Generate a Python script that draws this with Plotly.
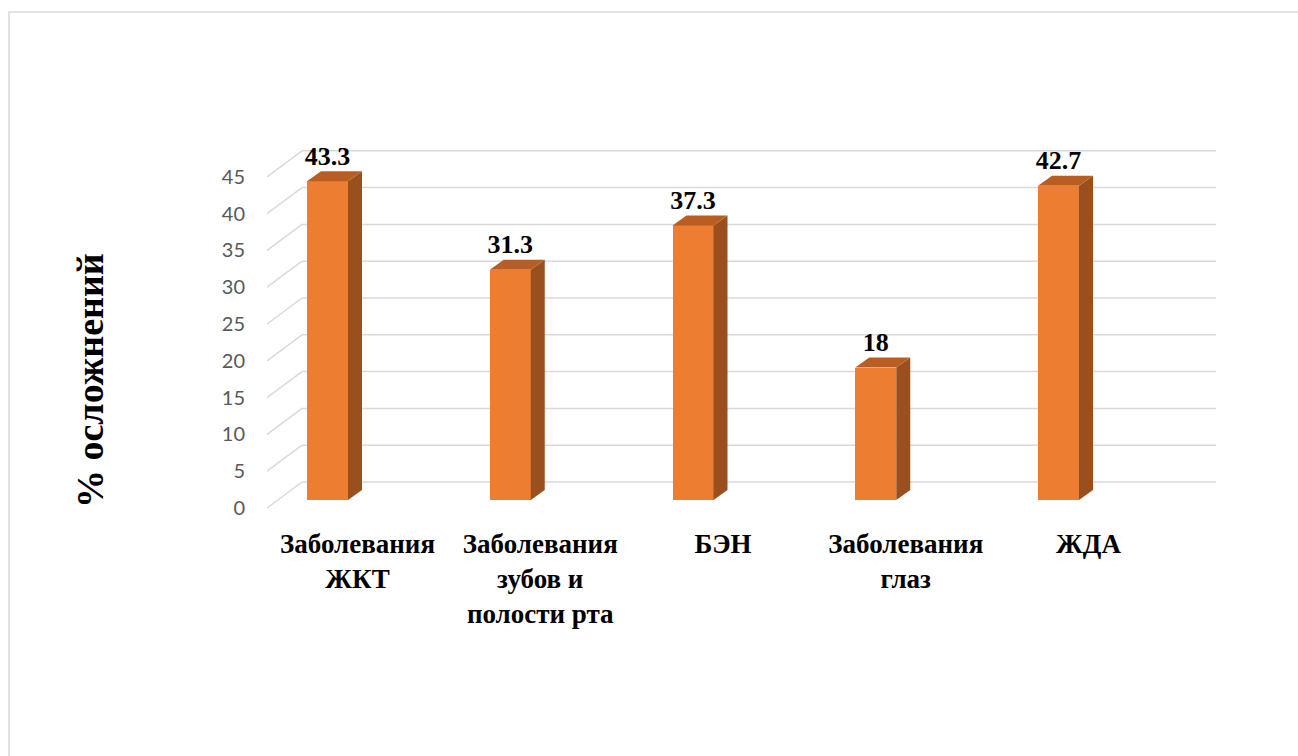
import plotly.graph_objects as go

# ---- data ----
categories = [
    "Заболевания<br>ЖКТ",
    "Заболевания<br>зубов и<br>полости рта",
    "БЭН",
    "Заболевания<br>глаз",
    "ЖДА",
]
values = [43.3, 31.3, 37.3, 18, 42.7]
value_labels = ["43.3", "31.3", "37.3", "18", "42.7"]
tick_values = [0, 5, 10, 15, 20, 25, 30, 35, 40, 45]

# ---- geometry of the pseudo-3D layout (pixels -> axis units) ----
W, H = 1298, 756
PX_PER_CAT = 182.75          # horizontal distance between categories
PX_PER_VAL = 7.36            # vertical pixels per value unit
FIRST_CAT_PX = 327.5         # pixel x of the first category
AXIS_BOTTOM_PX = 520         # pixel y where the category axis sits
ZERO_PX = 508                # pixel y of the value 0 on the front plane
X_DOMAIN_LEFT_PX = 255

def cx(px):
    return px / PX_PER_CAT

def cy(px):
    return px / PX_PER_VAL

BAR_W = cx(41)
DEPTH_DX = cx(14)
DEPTH_DY = cy(10)
BAR_LIFT = cy(8)
WALL_LIFT = cy(26)
WALL_X0 = cx(302 - FIRST_CAT_PX)
WALL_X1 = cx(1216 - FIRST_CAT_PX)
SIDE_X0 = cx(267 - FIRST_CAT_PX)
LABEL_SHIFT = cx(30)

FRONT = "#ED7D31"
SIDE = "#9A501E"
TOP = "#B85E22"
GRID = "#D9D9D9"
SERIF = "Liberation Serif"

xpos = list(range(len(categories)))

fig = go.Figure()

# front faces of the bars
fig.add_trace(go.Bar(
    x=xpos, y=values, base=BAR_LIFT, width=BAR_W,
    marker=dict(color=FRONT, line=dict(width=0)),
    hoverinfo="skip", showlegend=False,
))

# side and top faces
for x, v in zip(xpos, values):
    xl, xr = x - BAR_W / 2, x + BAR_W / 2
    y0, y1 = BAR_LIFT, BAR_LIFT + v
    fig.add_trace(go.Scatter(
        x=[xr, xr + DEPTH_DX, xr + DEPTH_DX, xr, xr],
        y=[y0, y0 + DEPTH_DY, y1 + DEPTH_DY, y1, y0],
        mode="lines", fill="toself", fillcolor=SIDE,
        line=dict(width=0, color=SIDE), hoverinfo="skip", showlegend=False,
    ))
    fig.add_trace(go.Scatter(
        x=[xl, xr, xr + DEPTH_DX, xl + DEPTH_DX, xl],
        y=[y1, y1, y1 + DEPTH_DY, y1 + DEPTH_DY, y1],
        mode="lines", fill="toself", fillcolor=TOP,
        line=dict(width=0, color=TOP), hoverinfo="skip", showlegend=False,
    ))

# value labels above the bars
fig.add_trace(go.Scatter(
    x=xpos,
    y=[BAR_LIFT + v + DEPTH_DY for v in values],
    mode="text", text=["<b>" + t + "</b>" for t in value_labels],
    textposition="top center",
    textfont=dict(family=SERIF, size=26, color="#000000"),
    hoverinfo="skip", showlegend=False,
))

# back wall gridlines and side wall diagonals
shapes = []
for t in tick_values:
    shapes.append(dict(type="line", xref="x", yref="y", layer="below",
                       x0=WALL_X0, x1=WALL_X1, y0=t + WALL_LIFT, y1=t + WALL_LIFT,
                       line=dict(color=GRID, width=1.5)))
    shapes.append(dict(type="line", xref="x", yref="y", layer="below",
                       x0=SIDE_X0, x1=WALL_X0, y0=t, y1=t + WALL_LIFT,
                       line=dict(color=GRID, width=1.5)))
# chart frame
shapes.append(dict(type="rect", xref="paper", yref="paper", layer="below",
                   x0=9 / W, x1=1.02, y0=-0.02, y1=(H - 12) / H,
                   line=dict(color=GRID, width=1.5)))

x_r0 = cx(X_DOMAIN_LEFT_PX - FIRST_CAT_PX)
x_r1 = cx(W - FIRST_CAT_PX)
y_r0 = -cy(AXIS_BOTTOM_PX - ZERO_PX)
y_r1 = cy(ZERO_PX)

fig.update_layout(
    width=W, height=H,
    margin=dict(l=0, r=0, t=0, b=0),
    paper_bgcolor="white", plot_bgcolor="rgba(0,0,0,0)",
    shapes=shapes,
    xaxis=dict(
        domain=[X_DOMAIN_LEFT_PX / W, 1], range=[x_r0, x_r1],
        tickmode="array", tickvals=[x + LABEL_SHIFT for x in xpos],
        ticktext=["<b>" + c + "</b>" for c in categories],
        tickfont=dict(family=SERIF, size=27, color="#000000"),
        showgrid=False, zeroline=False, showline=False, ticks="",
        ticklabelstandoff=5,
    ),
    yaxis=dict(
        domain=[(H - AXIS_BOTTOM_PX) / H, 1], range=[y_r0, y_r1],
        tickmode="array", tickvals=tick_values,
        tickfont=dict(family="Lato", size=20, color="#595959"),
        showgrid=False, zeroline=False, showline=False, ticks="",
        ticklabelstandoff=9,
    ),
    annotations=[dict(
        text="<b>% осложнений</b>", xref="paper", yref="paper",
        x=90 / W, y=(H - 380) / H, xanchor="center", yanchor="middle",
        textangle=-90, showarrow=False,
        font=dict(family=SERIF, size=38, color="#000000"),
    )],
    bargap=0,
)

fig.write_html("out.html")
